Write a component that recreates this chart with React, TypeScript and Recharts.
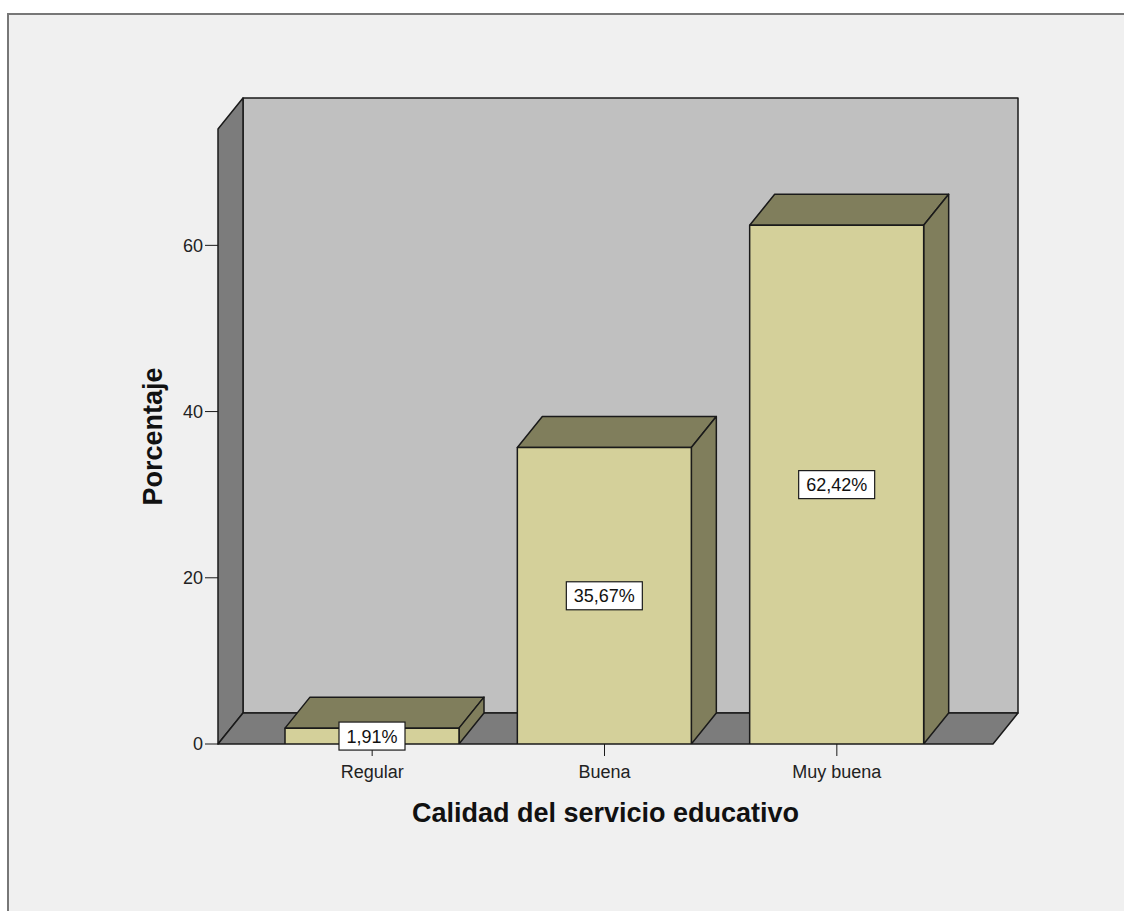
import { BarChart, Bar, XAxis, YAxis, ReferenceArea, LabelList } from "recharts";

/* ── data ─────────────────────────────────────────────── */
const categories = ["Regular", "Buena", "Muy buena"];
const percentages = [1.91, 35.67, 62.42];
const yTicks = [0, 20, 40, 60];

const data = categories.map((cat, i) => ({ cat, pct: percentages[i] }));

/* ── look ─────────────────────────────────────────────── */
const FONT = '"Liberation Sans", Arial, sans-serif';
const DX = 25; // depth offset, right
const DY = 31; // depth offset, up
const EDGE = "#1a1a1a";
const FRONT = "#d4d09a";
const SHADE = "#807e5c";
const WALL = "#c0c0c0";
const SIDE_WALL = "#7c7c7c";

/* ── 3D back wall, left wall and floor ─────────────────── */
function Walls(props: any) {
  const { x, y, width, height } = props;
  const L = x;
  const R = x + width;
  const T = y;
  const B = y + height;
  return (
    <g stroke={EDGE} strokeWidth={1.5} strokeLinejoin="round">
      <rect x={L + DX} y={T - DY} width={width} height={height} fill={WALL} />
      <polygon
        points={`${L},${T} ${L + DX},${T - DY} ${L + DX},${B - DY} ${L},${B}`}
        fill={SIDE_WALL}
      />
      <polygon
        points={`${L},${B} ${L + DX},${B - DY} ${R + DX},${B - DY} ${R},${B}`}
        fill={SIDE_WALL}
      />
    </g>
  );
}

/* ── 3D box bar ───────────────────────────────────────── */
function Box(props: any) {
  const { x, y, width: w, height: h } = props;
  return (
    <g stroke={EDGE} strokeWidth={1.5} strokeLinejoin="round">
      <polygon
        points={`${x},${y} ${x + DX},${y - DY} ${x + w + DX},${y - DY} ${x + w},${y}`}
        fill={SHADE}
      />
      <polygon
        points={`${x + w},${y} ${x + w + DX},${y - DY} ${x + w + DX},${y + h - DY} ${x + w},${y + h}`}
        fill={SHADE}
      />
      <rect x={x} y={y} width={w} height={h} fill={FRONT} />
    </g>
  );
}

/* ── boxed value label ────────────────────────────────── */
function fmt(v: number) {
  return v.toFixed(2).replace(".", ",") + "%";
}

function ValueBox(props: any) {
  const { x, y, width, height, value } = props;
  const txt = fmt(Number(value));
  const digits = txt.replace(/[^0-9]/g, "").length;
  const bw = digits * 10 + 5 + 16 + 15;
  const cx = x + width / 2;
  const cy = y + height / 2;
  return (
    <g>
      <rect
        x={cx - bw / 2}
        y={cy - 14}
        width={bw}
        height={28}
        fill="#ffffff"
        stroke={EDGE}
        strokeWidth={1.2}
      />
      <text
        x={cx}
        y={cy + 6.5}
        textAnchor="middle"
        fontSize={18}
        fontFamily={FONT}
        fill="#111"
      >
        {txt}
      </text>
    </g>
  );
}

export default function App() {
  return (
    <div
      style={{
        position: "absolute",
        left: 0,
        top: 0,
        width: 1124,
        height: 911,
        background: "#ffffff",
        overflow: "hidden",
      }}
    >
      <div
        style={{
          position: "absolute",
          left: 7,
          top: 13,
          width: 1117,
          height: 898,
          background: "#f0f0f0",
          borderTop: "2px solid #777",
          borderLeft: "2px solid #777",
        }}
      />
      <div style={{ position: "absolute", left: 0, top: 0 }}>
        <BarChart
          width={1124}
          height={911}
          data={data}
          margin={{ top: 129, right: 131, bottom: 77, left: 86 }}
        >
          <XAxis xAxisId="frame" type="number" domain={[0, 1]} hide />
          <XAxis
            dataKey="cat"
            height={90}
            padding={{ left: 38, right: 40 }}
            axisLine={false}
            tickLine={{ stroke: EDGE }}
            tickSize={12}
            tickMargin={9}
            tick={{ fontSize: 18, fill: "#222", fontFamily: FONT }}
            label={{
              value: "Calidad del servicio educativo",
              position: "insideBottom",
              offset: 12,
              fontSize: 27,
              fontWeight: "bold",
              fill: "#111",
              fontFamily: FONT,
            }}
          />
          <YAxis
            width={132}
            domain={[0, 74]}
            ticks={yTicks}
            allowDataOverflow
            axisLine={false}
            tickLine={{ stroke: EDGE }}
            tickSize={13}
            tickMargin={2}
            tick={{ fontSize: 18, fill: "#222", fontFamily: FONT }}
            label={{
              value: "Porcentaje",
              angle: -90,
              position: "center",
              fontSize: 27,
              fontWeight: "bold",
              fill: "#111",
              fontFamily: FONT,
            }}
          />
          <ReferenceArea
            xAxisId="frame"
            ifOverflow="visible"
            shape={(p: any) => <Walls {...p} />}
          />
          <Bar
            dataKey="pct"
            barSize={174}
            isAnimationActive={false}
            shape={(p: any) => <Box {...p} />}
          >
            <LabelList dataKey="pct" content={(p: any) => <ValueBox {...p} />} />
          </Bar>
        </BarChart>
      </div>
    </div>
  );
}
